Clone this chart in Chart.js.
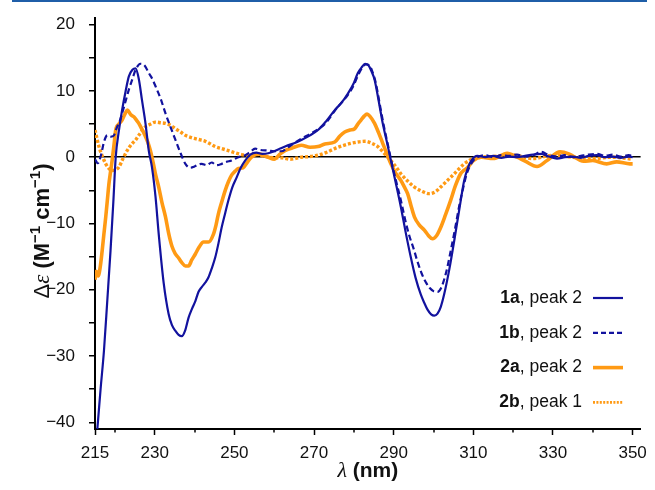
<!DOCTYPE html>
<html><head><meta charset="utf-8">
<script src="https://cdn.jsdelivr.net/npm/chart.js@4"></script>
<style>html,body{margin:0;padding:0;background:#fff;}canvas{display:block;}</style>
</head><body>
<canvas id="c" width="655" height="490"></canvas>
<script>
// ---- data (wavelength nm, Δε) ----
const wl1a = [215,215.6,216.4,217.25,218.1,218.9,219.6,220.2,221,221.8,222.7,223.5,224.4,225.2,226,226.8,227.7,228.5,229.3,230.2,231,232.25,233.5,234.3,235.2,236,236.8,237.6,238.5,239.4,240.2,241,241.8,242.7,243.5,244.3,245.2,246,246.8,247.7,248.5,249.5,250.6,251.6,252.7,254,255.5,257,258.5,260,261.5,263,265,266.8,269,271,273,275.2,277,278.5,280,281,282,282.8,283.6,284.4,285.2,286.2,287.25,288.3,289.3,290.5,291.8,293,294.3,295.5,296.8,297.7,298.5,299.4,300.2,301,301.8,302.7,304,305.2,306.5,307.7,308.7,309.5,311,313,315,317,319,321,323,325,327,329,331,333,335,337,339,341,343,345,347,349,350];
const de1a = [-45,-40.9,-35,-29.2,-21.5,-14.1,-6.8,0,4,7.1,10,12.2,13.2,13.4,11.8,8.6,5,1,-1.5,-6,-11.6,-19,-23.7,-25.3,-26.2,-26.8,-27,-26.2,-24.2,-22.8,-21.7,-20.3,-19.6,-18.9,-18.1,-16.8,-15.1,-13,-10.6,-8.4,-6.5,-4.5,-3,-1.6,-0.5,0.4,0.7,0.5,0.6,0.9,1.3,1.7,2.1,2.6,3.3,4.1,5.4,7.1,8.3,9.6,11.2,12.7,13.6,14.1,13.9,13,11.7,8.6,5.1,2.3,-0.5,-3.8,-7.5,-11.3,-15.1,-18.2,-20.7,-22,-23,-23.7,-23.9,-23.6,-22.6,-20.6,-16.8,-12.6,-7.8,-3.5,-1.5,-0.5,0.2,0,0.2,-0.1,0.1,0,0.2,0.4,0.5,0.1,-0.2,0,0.1,-0.1,0.2,0.3,0,0.1,-0.1,0.1,0];

const wl1b = [215,215.7,216.5,217.3,218.1,219,219.75,220.5,221.2,221.8,222.7,223.5,224.4,225.2,226.4,227.5,228.5,229.4,230.2,231.5,232.7,234,235.2,236.5,237.7,238.9,240,241,241.8,243,244.3,245.5,246.8,248,249.3,251,252.7,254,255.2,256.5,258.5,260,261.8,263.5,265,266.8,269,271,273,275.2,277,278.5,280,281,282,283,283.8,284.6,285.5,286.5,287.5,288.5,289.5,290.6,291.8,293.1,294,295,296,297,298,299,300,301,302,303.2,304.3,305.5,306.5,307.5,308.3,309,310,311,313,315,317,319,321,323,325,327,329,331,333,335,337,339,341,343,345,347,349,350];
const de1b = [-0.3,-0.9,0.3,2.4,3.3,3.1,3.3,4.5,5.4,6.6,8.5,10.2,11.8,13.2,14.1,13.8,12.7,11.8,10.7,8.8,6.6,4.5,2.6,0.6,-1,-1.6,-1.4,-1.1,-1,-1.2,-0.8,-1.2,-1,-0.7,-0.5,0,0.3,0.8,1.3,1.1,1,0.9,0.9,1.5,2.1,2.8,3.5,4.2,5.2,7,8.3,9.4,10.9,12.3,13.4,14,13.9,13,11.2,8,4.8,2,-0.8,-3.6,-6.5,-10,-12,-13.8,-15.8,-17.5,-18.8,-19.7,-20.2,-20.3,-19.6,-17.3,-14.2,-10.5,-7.2,-4.5,-2.6,-1.5,-0.5,0,0.3,0,0.3,0.2,0.4,0.1,0.3,0.8,0.3,0.1,0.3,0,0.2,0.4,0.5,0.2,0.4,0.1,0.3,0.2];

const wl2a = [215,215.3,215.8,216.3,216.8,217.2,217.7,218.1,218.5,218.9,219.3,219.8,220.2,221,221.8,222.5,223.1,224,224.75,225.4,226,226.8,227.7,228.3,228.9,229.6,230.2,231,231.8,232.7,233.5,234.3,235.1,236,236.8,237.7,238.5,239.3,240.2,241.2,242.25,243.5,244.75,245.4,246,246.8,247.7,248.5,249.3,250.2,251,252.2,253.2,254.3,256,258.5,260,261.5,262.7,264.5,266.8,269,271,272.7,275.2,276.5,277.7,279,280.2,281,281.8,282.6,283.3,284,285.2,286.2,287.25,288.3,289.3,290.5,291.8,292.6,293.5,294.3,295.2,296.4,297.7,298.7,299.75,300.8,301.8,303,304.3,305.5,306.8,307.6,308.5,310,312,315,318.5,321,323,326,328.5,331.8,334,337.7,340,343.5,346,349.3,350];
const de2a = [-18.5,-17.2,-17.9,-16.6,-14.1,-11.8,-9,-6.5,-4,-2.2,-0.5,2,4.1,5,5.6,6.5,7.1,6.4,6.1,5.6,5.1,4.2,3.1,2.2,1,-0.8,-2.6,-4.5,-6.8,-9,-11.5,-13.4,-14.5,-15.2,-15.9,-16.4,-16.4,-15.5,-14.6,-13.5,-12.8,-12.8,-11.6,-10.2,-8.5,-6.8,-5,-3.7,-2.7,-2.1,-1.7,-1.6,-0.8,0,0.5,0,-0.3,0.5,1,1.4,1.8,1.5,1.6,2,2.3,3.2,3.8,4.1,4.3,5,5.6,6.2,6.5,6.2,5.1,3.7,2.1,0.5,-1,-2.4,-3.5,-4.4,-5.5,-7.2,-9,-10.2,-11,-11.8,-12.3,-11.8,-10.6,-8.7,-6.5,-4.3,-2.5,-2,-1.6,-0.5,0,-0.2,0.6,0,-0.6,-1.4,-0.5,0.8,0.5,-0.6,-0.5,-1,-0.7,-1,-1];

const wl2b = [215,216,216.8,217.7,218.5,219.3,220.2,221,221.8,222.7,223.5,224.4,225.2,226,227.7,229,230.2,231.5,232.7,234,235.2,236.5,237.7,239,240.2,241.5,242.7,244,245.2,246.8,248.5,250,251.8,253.5,255.2,257,258.5,260,262,264,266.8,269,271,273,275.2,277,279.3,281,283,284.5,286,287.3,288.5,289.3,290,291,291.8,293.5,295.2,297,298.9,300.5,301.8,303.5,305.2,306.5,307.7,309,310,312,315,320,325,330,335,340,345,350];
const de2b = [4.1,1.6,0.2,-1,-1.7,-2,-1.9,-1.5,-0.5,0.6,1.4,2.1,2.6,3.3,4.6,5,5.3,5.2,5.1,4.8,4.3,3.8,3.3,3,2.8,2.6,2.4,2,1.6,1.3,1,0.7,0.4,0.3,0.5,0.2,0,-0.1,-0.1,-0.3,0,0.1,0.3,0.7,1.3,1.7,2.1,2.3,2.4,2.1,1.6,0.8,0,-0.5,-1,-1.8,-2.5,-3.6,-4.5,-5.1,-5.5,-5.2,-4.5,-3.5,-2.5,-1.7,-1,-0.5,-0.2,0,0.1,0.3,-0.2,0.3,0,-0.2,0,-0.3];

const seriesNames = ['1a', '1b', '2a', '2b'];
const seriesNotes = [', peak 2', ', peak 2', ', peak 2', ', peak 1'];
const xMajorTicks = [215, 230, 250, 270, 290, 310, 330, 350];
const xMinorTicks = [220, 240, 260, 280, 300, 320, 340];
const yTicks = [-40, -35, -30, -25, -20, -15, -10, -5, 0, 5, 10, 15, 20];

// ---- styling ----
const BLUE = '#12129e';
const ORANGE = '#ff9a14';
const SANS = '"Liberation Sans", Arial, Helvetica, sans-serif';
const SERIF = '"Liberation Serif", "DejaVu Serif", serif';

function pts(xs, ys) { return xs.map((x, i) => ({x: x, y: ys[i]})); }

const styles = [
  {color: BLUE, width: 2.2, dash: []},
  {color: BLUE, width: 2.2, dash: [6, 3.5]},
  {color: ORANGE, width: 3.6, dash: []},
  {color: ORANGE, width: 3.4, dash: [3, 2]}
];
const seriesData = [pts(wl1a, de1a), pts(wl1b, de1b), pts(wl2a, de2a), pts(wl2b, de2b)];

const datasets = seriesData.map((d, i) => ({
  label: seriesNames[i] + seriesNotes[i],
  data: d,
  borderColor: styles[i].color,
  borderWidth: styles[i].width,
  borderDash: styles[i].dash,
  fill: false,
  pointRadius: 0,
  cubicInterpolationMode: 'monotone'
}));

function drawRuns(ctx, runs, x, y, align) {
  let total = 0;
  runs.forEach(r => { ctx.font = r.f; r.w = ctx.measureText(r.t).width; total += r.w; });
  let cx = align === 'center' ? x - total / 2 : (align === 'right' ? x - total : x);
  ctx.textAlign = 'left';
  runs.forEach(r => { ctx.font = r.f; ctx.fillText(r.t, cx, y + (r.dy || 0)); cx += r.w; });
}

const deco = {
  id: 'deco',
  beforeDraw(chart) {
    const c = chart.ctx;
    c.save();
    c.fillStyle = '#fff';
    c.fillRect(0, 0, chart.width, chart.height);
    c.fillStyle = '#1f5ea8';
    c.fillRect(12, 0, 635, 2);
    c.restore();
  },
  afterDraw(chart) {
    const ctx = chart.ctx, xs = chart.scales.x, area = chart.chartArea;
    ctx.save();
    // minor x ticks
    ctx.strokeStyle = '#000';
    ctx.lineWidth = 1.5;
    xMinorTicks.forEach(v => {
      const px = Math.round(xs.getPixelForValue(v));
      ctx.beginPath(); ctx.moveTo(px, area.bottom); ctx.lineTo(px, area.bottom + 3.5); ctx.stroke();
    });
    ctx.fillStyle = '#111';
    ctx.textBaseline = 'alphabetic';
    // x title
    drawRuns(ctx, [
      {t: 'λ', f: 'italic 22px ' + SERIF},
      {t: ' (nm)', f: 'bold 21px ' + SANS}
    ], (area.left + area.right) / 2, 477, 'center');
    // y title
    ctx.save();
    ctx.translate(49, 231);
    ctx.rotate(-Math.PI / 2);
    drawRuns(ctx, [
      {t: 'Δ', f: '22px ' + SANS},
      {t: 'ε', f: 'italic 23px ' + SERIF},
      {t: ' (M', f: 'bold 22px ' + SANS},
      {t: '−1', f: 'bold 15px ' + SANS, dy: -9},
      {t: ' cm', f: 'bold 22px ' + SANS},
      {t: '−1', f: 'bold 15px ' + SANS, dy: -9},
      {t: ')', f: 'bold 22px ' + SANS}
    ], 0, 0, 'center');
    ctx.restore();
    // legend
    ctx.textBaseline = 'middle';
    seriesNames.forEach((n, i) => {
      const y = 298 + i * 34.8;
      drawRuns(ctx, [
        {t: n, f: 'bold 17.5px ' + SANS},
        {t: seriesNotes[i], f: '17.5px ' + SANS}
      ], 582, y, 'right');
      ctx.beginPath();
      ctx.strokeStyle = styles[i].color;
      ctx.lineWidth = i === 3 ? 2.6 : styles[i].width;
      ctx.setLineDash(i === 3 ? [2, 1.4] : (i === 1 ? [5, 3] : []));
      ctx.moveTo(593, y); ctx.lineTo(623, y); ctx.stroke();
      ctx.setLineDash([]);
    });
    ctx.restore();
  }
};

new Chart(document.getElementById('c'), {
  type: 'line',
  data: {datasets: datasets},
  options: {
    responsive: false,
    animation: false,
    layout: {padding: {top: 18, right: 12, left: 0, bottom: 0}},
    plugins: {legend: {display: false}, tooltip: {enabled: false}},
    scales: {
      x: {
        type: 'linear', min: 215, max: 352,
        afterBuildTicks: s => { s.ticks = xMajorTicks.map(v => ({value: v})); },
        afterFit: s => { s.height = 61; },
        ticks: {padding: 8, color: '#111', font: {size: 17, family: SANS}, autoSkip: false, maxRotation: 0,
          callback: v => String(v)},
        grid: {drawOnChartArea: false, tickLength: 6, tickWidth: 1.5, tickColor: '#000'},
        border: {color: '#000', width: 2}
      },
      y: {
        type: 'linear', min: -41, max: 21,
        afterBuildTicks: s => { s.ticks = yTicks.map(v => ({value: v})); },
        afterFit: s => { s.width = 95; },
        ticks: {padding: 14, color: '#111', font: {size: 17, family: SANS, lineHeight: 0.45}, autoSkip: false,
          callback: v => (v % 10 === 0 ? (v < 0 ? '\u2212' + Math.abs(v) : String(v)) : '')},
        grid: {
          color: c => (c.tick && c.tick.value === 0 ? '#000' : 'rgba(0,0,0,0)'),
          lineWidth: 1.5, tickLength: 6, tickWidth: 1.5, tickColor: '#000'
        },
        border: {color: '#000', width: 2}
      }
    }
  },
  plugins: [deco]
});
</script>
</body></html>
